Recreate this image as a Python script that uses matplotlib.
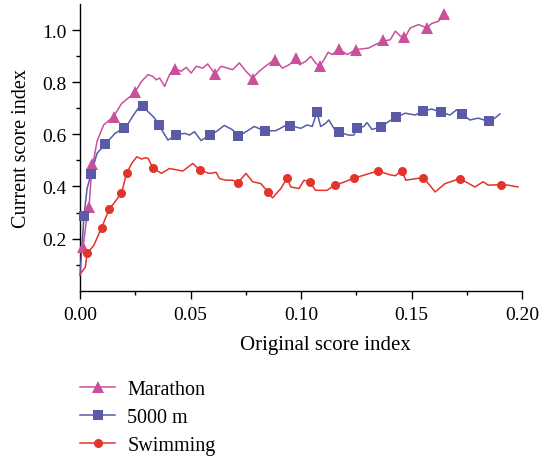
import matplotlib
matplotlib.use("Agg")
import matplotlib.pyplot as plt
from matplotlib.lines import Line2D

# ---------------- data ----------------
series_names = ["Marathon", "5000 m", "Swimming"]

marathon_x = [0.0000, 0.0014, 0.0027, 0.0041, 0.0050, 0.0059, 0.0077, 0.0107, 0.0152, 0.0189,
              0.0246, 0.0278, 0.0308, 0.0330, 0.0345, 0.0360, 0.0383, 0.0405, 0.0428, 0.0458,
              0.0481, 0.0503, 0.0526, 0.0555, 0.0578, 0.0611, 0.0638, 0.0668, 0.0691, 0.0721,
              0.0751, 0.0781, 0.0811, 0.0848, 0.0881, 0.0916, 0.0946, 0.0976, 0.0994, 0.1021,
              0.1044, 0.1066, 0.1084, 0.1104, 0.1123, 0.1141, 0.1171, 0.1209, 0.1249, 0.1306,
              0.1336, 0.1369, 0.1404, 0.1427, 0.1449, 0.1472, 0.1494, 0.1532, 0.1569, 0.1591,
              0.1622, 0.1652, 0.1664]
marathon_y = [0.149, 0.168, 0.257, 0.322, 0.430, 0.488, 0.573, 0.636, 0.668, 0.719,
              0.758, 0.803, 0.829, 0.822, 0.809, 0.816, 0.784, 0.829, 0.852, 0.842,
              0.857, 0.835, 0.861, 0.854, 0.870, 0.831, 0.861, 0.854, 0.848, 0.874,
              0.842, 0.816, 0.842, 0.867, 0.886, 0.854, 0.867, 0.886, 0.867, 0.880,
              0.899, 0.874, 0.861, 0.886, 0.915, 0.906, 0.928, 0.906, 0.925, 0.931,
              0.944, 0.957, 0.963, 0.996, 0.977, 0.974, 1.008, 1.021, 1.008, 1.025,
              1.034, 1.060, 1.051]
marathon_mx = [0.0015, 0.0041, 0.0055, 0.0155, 0.0248, 0.0428, 0.0611, 0.0784, 0.0883,
               0.0979, 0.1086, 0.1173, 0.1249, 0.1371, 0.1468, 0.1569, 0.1647]
marathon_my = [0.167, 0.321, 0.486, 0.668, 0.761, 0.852, 0.831, 0.813, 0.885,
               0.893, 0.861, 0.929, 0.925, 0.960, 0.974, 1.006, 1.060]

m5000_x = [0.0000, 0.0018, 0.0032, 0.0050, 0.0077, 0.0115, 0.0159, 0.0200, 0.0219, 0.0242,
           0.0264, 0.0286, 0.0308, 0.0338, 0.0356, 0.0375, 0.0398, 0.0436, 0.0473, 0.0495,
           0.0518, 0.0548, 0.0586, 0.0616, 0.0653, 0.0691, 0.0716, 0.0751, 0.0788, 0.0838,
           0.0886, 0.0931, 0.0958, 0.0999, 0.1028, 0.1051, 0.1072, 0.1089, 0.1111, 0.1126,
           0.1149, 0.1171, 0.1216, 0.1239, 0.1254, 0.1284, 0.1299, 0.1321, 0.1364, 0.1396,
           0.1431, 0.1472, 0.1517, 0.1550, 0.1591, 0.1634, 0.1674, 0.1704, 0.1730, 0.1764,
           0.1802, 0.1851, 0.1877, 0.1900]
m5000_y = [0.058, 0.286, 0.392, 0.447, 0.527, 0.563, 0.604, 0.625, 0.642, 0.674,
           0.700, 0.708, 0.687, 0.662, 0.635, 0.610, 0.578, 0.597, 0.604, 0.597,
           0.610, 0.576, 0.597, 0.610, 0.634, 0.617, 0.593, 0.610, 0.630, 0.613,
           0.614, 0.634, 0.632, 0.623, 0.636, 0.630, 0.685, 0.630, 0.642, 0.655,
           0.623, 0.608, 0.597, 0.597, 0.624, 0.630, 0.645, 0.619, 0.628, 0.649,
           0.666, 0.681, 0.674, 0.689, 0.697, 0.685, 0.674, 0.694, 0.678, 0.655,
           0.662, 0.649, 0.662, 0.678]
m5000_mx = [0.0018, 0.0048, 0.0115, 0.0200, 0.0286, 0.0356, 0.0436, 0.0586, 0.0716, 0.0838,
            0.0948, 0.1072, 0.1171, 0.1252, 0.1364, 0.1431, 0.1550, 0.1634, 0.1730, 0.1850]
m5000_my = [0.287, 0.446, 0.563, 0.625, 0.708, 0.635, 0.597, 0.597, 0.593, 0.613,
            0.632, 0.685, 0.608, 0.624, 0.628, 0.666, 0.689, 0.685, 0.678, 0.652]

swim_x = [0.0001, 0.0024, 0.0032, 0.0062, 0.0098, 0.0133, 0.0152, 0.0187, 0.0197, 0.0211,
          0.0234, 0.0257, 0.0279, 0.0294, 0.0308, 0.0329, 0.0368, 0.0405, 0.0465, 0.0510,
          0.0543, 0.0586, 0.0616, 0.0631, 0.0661, 0.0691, 0.0715, 0.0751, 0.0781, 0.0818,
          0.0852, 0.0871, 0.0909, 0.0937, 0.0954, 0.0991, 0.1014, 0.1039, 0.1066, 0.1089,
          0.1118, 0.1153, 0.1186, 0.1240, 0.1284, 0.1350, 0.1396, 0.1427, 0.1456, 0.1474,
          0.1554, 0.1607, 0.1652, 0.1719, 0.1787, 0.1824, 0.1847, 0.1904, 0.1937, 0.1982]
swim_y = [0.064, 0.090, 0.143, 0.173, 0.242, 0.315, 0.334, 0.374, 0.405, 0.451,
          0.488, 0.514, 0.505, 0.510, 0.508, 0.472, 0.450, 0.469, 0.459, 0.488,
          0.462, 0.450, 0.454, 0.430, 0.424, 0.424, 0.415, 0.450, 0.418, 0.411,
          0.378, 0.356, 0.392, 0.432, 0.398, 0.392, 0.424, 0.417, 0.385, 0.385,
          0.385, 0.406, 0.414, 0.432, 0.443, 0.460, 0.446, 0.441, 0.461, 0.424,
          0.434, 0.379, 0.411, 0.430, 0.398, 0.418, 0.405, 0.407, 0.405, 0.398]
swim_mx = [0.0032, 0.0098, 0.0133, 0.0187, 0.0211, 0.0329, 0.0543, 0.0715, 0.0852, 0.0937,
           0.1039, 0.1153, 0.1240, 0.1350, 0.1456, 0.1554, 0.1719, 0.1904]
swim_my = [0.143, 0.242, 0.315, 0.374, 0.451, 0.472, 0.462, 0.415, 0.378, 0.432,
           0.417, 0.406, 0.432, 0.460, 0.461, 0.434, 0.430, 0.407]

x_ticks = [0.00, 0.05, 0.10, 0.15, 0.20]
x_minor = [0.025, 0.075, 0.125, 0.175]
y_ticks = [0.2, 0.4, 0.6, 0.8, 1.0]
y_minor = [0.1, 0.3, 0.5, 0.7, 0.9]

# ---------------- style ----------------
plt.rcParams['font.family'] = ['Liberation Serif', 'DejaVu Serif']
colors = ['#c9519c', '#5a5aa6', '#e2342b']
markers = ['^', 's', 'o']
msizes = [8.5, 6.8, 6.5]

fig = plt.figure(figsize=(5.4, 4.6), dpi=100)
ax = fig.add_axes([80/540, 1 - 291.7/460, 442/540, 286.7/460])

lines = [(marathon_x, marathon_y, marathon_mx, marathon_my),
         (m5000_x, m5000_y, m5000_mx, m5000_my),
         (swim_x, swim_y, swim_mx, swim_my)]

for (lx, ly, mx, my), c, mk, ms in zip(lines, colors, markers, msizes):
    ax.plot(lx, ly, color=c, lw=1.1, clip_on=False, zorder=3)
    ax.plot(mx, my, linestyle='none', marker=mk, ms=ms, color=c,
            markeredgewidth=0, clip_on=False, zorder=4)

ax.set_xlim(0, 0.20)
ax.set_ylim(0, 1.1)
ax.set_xticks(x_ticks)
ax.set_xticks(x_minor, minor=True)
ax.set_xticklabels([f"{v:.2f}" for v in x_ticks])
ax.set_yticks(y_ticks)
ax.set_yticks(y_minor, minor=True)
ax.set_yticklabels([f"{v:.1f}" for v in y_ticks])

for s in ['top', 'right']:
    ax.spines[s].set_visible(False)
for s in ['left', 'bottom']:
    ax.spines[s].set_linewidth(1.0)

ax.tick_params(axis='both', which='major', direction='out', length=6, width=1.0,
               labelsize=14)
ax.tick_params(axis='x', which='major', pad=5)
ax.tick_params(axis='y', which='major', pad=3.5)
ax.tick_params(axis='both', which='minor', direction='out', length=3, width=1.0)

ax.set_xlabel("Original score index", fontsize=15)
ax.set_ylabel("Current score index", fontsize=14.5)
ax.xaxis.set_label_coords((325 - 80) / 442, -0.155)
ax.yaxis.set_label_coords(-0.11, 0.5)

handles = [Line2D([], [], color=c, lw=1.1, marker=mk, ms=ms, markeredgewidth=0)
           for c, mk, ms in zip(colors, markers, msizes)]
fig.legend(handles, series_names, loc='upper left',
           bbox_to_anchor=(80/540, 1 - 381/460), frameon=False,
           fontsize=14.5, handlelength=1.75, handletextpad=0.6,
           labelspacing=0.45, borderpad=0, borderaxespad=0)

fig.savefig("out.png", dpi=100)
